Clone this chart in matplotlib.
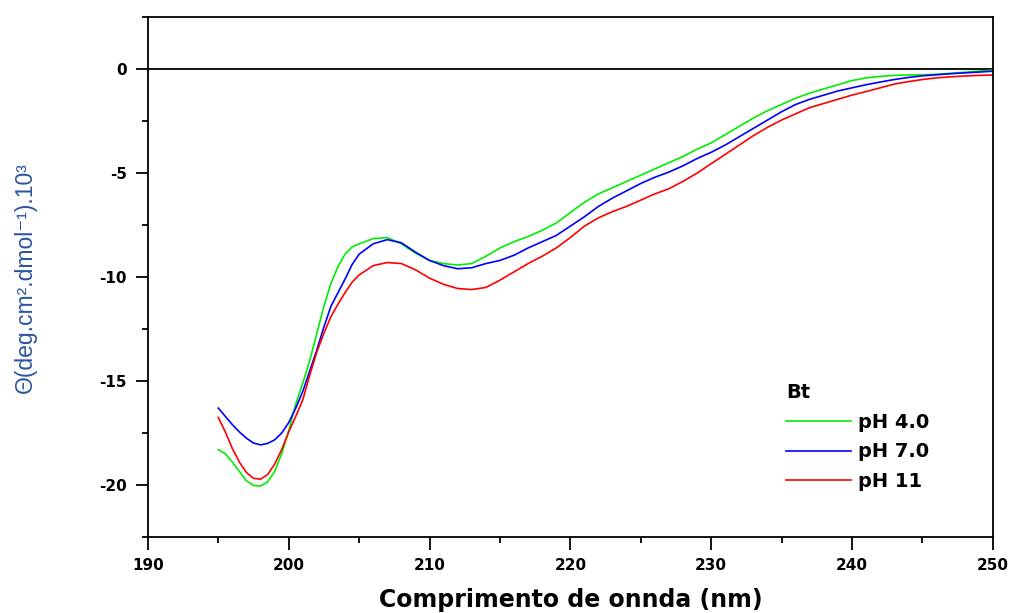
import matplotlib
matplotlib.use("Agg")
import matplotlib.pyplot as plt
from matplotlib.ticker import MultipleLocator

plt.rcParams['axes.unicode_minus'] = False

# comprimento de onda (nm): passo de 0.5 ate 205 nm, depois de 1 nm
wl = [195 + 0.5 * i for i in range(20)] + list(range(205, 251))

# elipticidade molar (x10^3) para cada pH
ph4 = [-18.3, -18.5, -18.9, -19.35, -19.8, -20.02, -20.05, -19.85, -19.35, -18.5,
       -17.4, -16.1, -15.1, -14.0, -12.7, -11.4, -10.3, -9.5, -8.9, -8.55,
       -8.4, -8.15, -8.1, -8.4, -8.85, -9.2, -9.35, -9.42, -9.35, -9.0,
       -8.6, -8.3, -8.05, -7.75, -7.4, -6.9, -6.4, -6.0, -5.7, -5.4,
       -5.1, -4.8, -4.5, -4.2, -3.85, -3.55, -3.15, -2.75, -2.35, -2.0,
       -1.7, -1.4, -1.15, -0.95, -0.75, -0.55, -0.42, -0.35, -0.3, -0.28,
       -0.27, -0.25, -0.2, -0.15, -0.1, -0.05]
ph7 = [-16.3, -16.7, -17.1, -17.45, -17.75, -17.98, -18.07, -18.0, -17.83, -17.5,
       -17.0, -16.3, -15.5, -14.5, -13.5, -12.4, -11.4, -10.75, -10.1, -9.4,
       -8.9, -8.4, -8.2, -8.35, -8.8, -9.2, -9.45, -9.6, -9.55, -9.35,
       -9.2, -8.95, -8.6, -8.3, -8.0, -7.55, -7.1, -6.6, -6.2, -5.85,
       -5.5, -5.2, -4.95, -4.65, -4.3, -4.0, -3.65, -3.25, -2.85, -2.45,
       -2.05, -1.7, -1.45, -1.25, -1.05, -0.9, -0.75, -0.62, -0.5, -0.4,
       -0.32, -0.27, -0.22, -0.18, -0.14, -0.1]
ph11 = [-16.75, -17.45, -18.25, -18.9, -19.4, -19.68, -19.72, -19.5, -19.0, -18.3,
        -17.45, -16.7, -15.9, -14.7, -13.6, -12.7, -11.9, -11.3, -10.75, -10.25,
        -9.9, -9.45, -9.3, -9.35, -9.65, -10.05, -10.35, -10.55, -10.6, -10.5,
        -10.15, -9.75, -9.35, -9.0, -8.6, -8.1, -7.55, -7.15, -6.85, -6.6,
        -6.3, -6.0, -5.75, -5.4, -5.0, -4.55, -4.1, -3.65, -3.2, -2.8,
        -2.45, -2.15, -1.85, -1.65, -1.45, -1.25, -1.08, -0.9, -0.72, -0.6,
        -0.5, -0.42, -0.37, -0.33, -0.3, -0.28]

fig = plt.figure(figsize=(10.13, 6.13), dpi=100)
ax = fig.add_axes([0.146, 0.124, 0.834, 0.848])

ax.axhline(0, color='black', lw=1.3, zorder=1)
ax.plot(wl, ph4, color='#00ee00', lw=1.2, label='pH 4.0')
ax.plot(wl, ph7, color='#0000ff', lw=1.2, label='pH 7.0')
ax.plot(wl, ph11, color='#ff0000', lw=1.2, label='pH 11')

ax.set_xlim(190, 250)
ax.set_ylim(-22.5, 2.5)
ax.xaxis.set_major_locator(MultipleLocator(10))
ax.xaxis.set_minor_locator(MultipleLocator(5))
ax.yaxis.set_major_locator(MultipleLocator(5))
ax.yaxis.set_minor_locator(MultipleLocator(2.5))
ax.tick_params(which='major', direction='out', length=9, width=1.3, pad=6)
ax.tick_params(which='minor', direction='out', length=4.5, width=1.3)
ax.tick_params(top=False, right=False)
for s in ax.spines.values():
    s.set_linewidth(1.3)

for lab in ax.get_xticklabels() + ax.get_yticklabels():
    lab.set_fontfamily('DejaVu Sans')
    lab.set_fontweight('bold')
    lab.set_fontsize(11)

ax.set_xlabel('Comprimento de onnda (nm)', fontsize=17, fontweight='bold',
              family='DejaVu Sans', labelpad=11)
ax.set_ylabel('Θ(deg.cm².dmol⁻¹).10³', fontsize=16.5, color='#2a55a0',
              family=['Liberation Sans', 'DejaVu Sans'], labelpad=45)

leg = ax.legend(title='Bt', loc='upper left', bbox_to_anchor=(0.735, 0.33),
                frameon=False, alignment='left', handlelength=3.3,
                handletextpad=0.4, labelspacing=0.55,
                prop={'family': 'DejaVu Sans', 'weight': 'bold', 'size': 14})
leg.get_title().set_fontfamily('DejaVu Sans')
leg.get_title().set_fontweight('bold')
leg.get_title().set_fontsize(14)

fig.savefig('out.png', dpi=100)
